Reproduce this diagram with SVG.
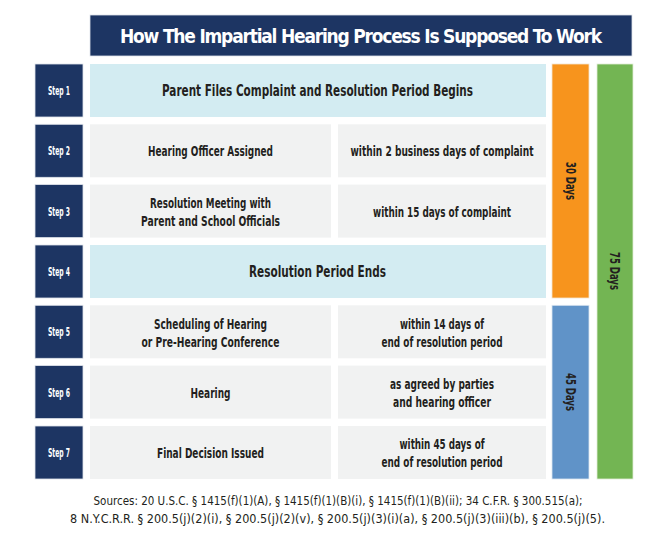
<svg xmlns="http://www.w3.org/2000/svg" width="666" height="534" viewBox="0 0 666 534">
<style>
text{font-family:"DejaVu Sans","Liberation Sans",sans-serif;font-stretch:condensed;font-weight:bold;text-anchor:middle;dominant-baseline:central;}
.step{fill:#1d3563;stroke:#dfe3ea;stroke-width:0.8;}
.stept{fill:#ffffff;font-size:11.5px;}
.hl{fill:#d3ecf2;}
.cell{fill:#f1f2f2;}
.ct{fill:#231f20;font-size:14.5px;}
.big{fill:#231f20;font-size:16px;}
.vt{fill:#231f20;font-size:14px;}
.src{fill:#231f20;font-size:12.5px;font-weight:normal;}
</style>
<rect width="666" height="534" fill="#ffffff"/>
<g id="title">
<rect x="90" y="15" width="542" height="41" fill="#1d3563" stroke="#dfe3ea" stroke-width="0.8"/>
<text x="361" y="36" fill="#ffffff" font-size="19px" textLength="482" lengthAdjust="spacing">How The Impartial Hearing Process Is Supposed To Work</text>
</g>
<g id="step1">
<rect class="step" x="35" y="64" width="48" height="53"/>
<text class="stept" x="59" y="90.5" textLength="22" lengthAdjust="spacingAndGlyphs">Step 1</text>
<rect class="hl" x="90" y="64" width="456" height="53"/>
<text class="big" x="317.5" y="90.5" textLength="311" lengthAdjust="spacingAndGlyphs">Parent Files Complaint and Resolution Period Begins</text>
</g>
<g id="step2">
<rect class="step" x="35" y="124.3" width="48" height="53"/>
<text class="stept" x="59" y="151" textLength="22" lengthAdjust="spacingAndGlyphs">Step 2</text>
<rect class="cell" x="90" y="124.3" width="241" height="53"/>
<rect class="cell" x="338" y="124.3" width="208" height="53"/>
<text class="ct" x="210.5" y="151" textLength="125" lengthAdjust="spacingAndGlyphs">Hearing Officer Assigned</text>
<text class="ct" x="442" y="151" textLength="183" lengthAdjust="spacingAndGlyphs">within 2 business days of complaint</text>
</g>
<g id="step3">
<rect class="step" x="35" y="184.6" width="48" height="53"/>
<text class="stept" x="59" y="211.5" textLength="22" lengthAdjust="spacingAndGlyphs">Step 3</text>
<rect class="cell" x="90" y="184.6" width="241" height="53"/>
<rect class="cell" x="338" y="184.6" width="208" height="53"/>
<text class="ct" x="210.5" y="202.5" textLength="121" lengthAdjust="spacingAndGlyphs">Resolution Meeting with</text>
<text class="ct" x="210.5" y="220.5" textLength="139" lengthAdjust="spacingAndGlyphs">Parent and School Officials</text>
<text class="ct" x="442" y="211.5" textLength="138" lengthAdjust="spacingAndGlyphs">within 15 days of complaint</text>
</g>
<g id="step4">
<rect class="step" x="35" y="245" width="48" height="53"/>
<text class="stept" x="59" y="271.5" textLength="22" lengthAdjust="spacingAndGlyphs">Step 4</text>
<rect class="hl" x="90" y="245" width="456" height="53"/>
<text class="big" x="317.5" y="271.5" textLength="137" lengthAdjust="spacingAndGlyphs">Resolution Period Ends</text>
</g>
<g id="step5">
<rect class="step" x="35" y="305.3" width="48" height="53"/>
<text class="stept" x="59" y="332" textLength="22" lengthAdjust="spacingAndGlyphs">Step 5</text>
<rect class="cell" x="90" y="305.3" width="241" height="53"/>
<rect class="cell" x="338" y="305.3" width="208" height="53"/>
<text class="ct" x="210.5" y="323.5" textLength="113" lengthAdjust="spacingAndGlyphs">Scheduling of Hearing</text>
<text class="ct" x="210.5" y="341.5" textLength="138" lengthAdjust="spacingAndGlyphs">or Pre-Hearing Conference</text>
<text class="ct" x="442" y="323.5" textLength="84" lengthAdjust="spacingAndGlyphs">within 14 days of</text>
<text class="ct" x="442" y="341.5" textLength="121" lengthAdjust="spacingAndGlyphs">end of resolution period</text>
</g>
<g id="step6">
<rect class="step" x="35" y="365.6" width="48" height="53"/>
<text class="stept" x="59" y="392.5" textLength="22" lengthAdjust="spacingAndGlyphs">Step 6</text>
<rect class="cell" x="90" y="365.6" width="241" height="53"/>
<rect class="cell" x="338" y="365.6" width="208" height="53"/>
<text class="ct" x="210.5" y="392.5" textLength="40" lengthAdjust="spacingAndGlyphs">Hearing</text>
<text class="ct" x="442" y="383.5" textLength="104" lengthAdjust="spacingAndGlyphs">as agreed by parties</text>
<text class="ct" x="442" y="401.5" textLength="98" lengthAdjust="spacingAndGlyphs">and hearing officer</text>
</g>
<g id="step7">
<rect class="step" x="35" y="426" width="48" height="53"/>
<text class="stept" x="59" y="452.5" textLength="22" lengthAdjust="spacingAndGlyphs">Step 7</text>
<rect class="cell" x="90" y="426" width="241" height="53"/>
<rect class="cell" x="338" y="426" width="208" height="53"/>
<text class="ct" x="210.5" y="452.5" textLength="107" lengthAdjust="spacingAndGlyphs">Final Decision Issued</text>
<text class="ct" x="442" y="443.5" textLength="85" lengthAdjust="spacingAndGlyphs">within 45 days of</text>
<text class="ct" x="442" y="462" textLength="121" lengthAdjust="spacingAndGlyphs">end of resolution period</text>
</g>
<g id="days30">
<rect x="552" y="64" width="37" height="234" fill="#f7941d" stroke="#f3e3cf" stroke-width="0.8"/>
<text class="vt" transform="translate(570.5 181) rotate(90)" textLength="38" lengthAdjust="spacingAndGlyphs">30 Days</text>
</g>
<g id="days45">
<rect x="552" y="305.3" width="37" height="173.7" fill="#6093c8" stroke="#dbe6f1" stroke-width="0.8"/>
<text class="vt" transform="translate(570.5 392) rotate(90)" textLength="38" lengthAdjust="spacingAndGlyphs">45 Days</text>
</g>
<g id="days75">
<rect x="597" y="64" width="36" height="415" fill="#73b553" stroke="#e0eed8" stroke-width="0.8"/>
<text class="vt" transform="translate(614.5 271) rotate(90)" textLength="38" lengthAdjust="spacingAndGlyphs">75 Days</text>
</g>
<g id="sources">
<text class="src" x="338" y="500" textLength="489" lengthAdjust="spacingAndGlyphs">Sources:  20 U.S.C. § 1415(f)(1)(A), § 1415(f)(1)(B)(i), § 1415(f)(1)(B)(ii); 34 C.F.R. § 300.515(a);</text>
<text class="src" x="337.5" y="518" textLength="535" lengthAdjust="spacingAndGlyphs">8 N.Y.C.R.R. § 200.5(j)(2)(i), § 200.5(j)(2)(v), § 200.5(j)(3)(i)(a), § 200.5(j)(3)(iii)(b), § 200.5(j)(5).</text>
</g>
</svg>
